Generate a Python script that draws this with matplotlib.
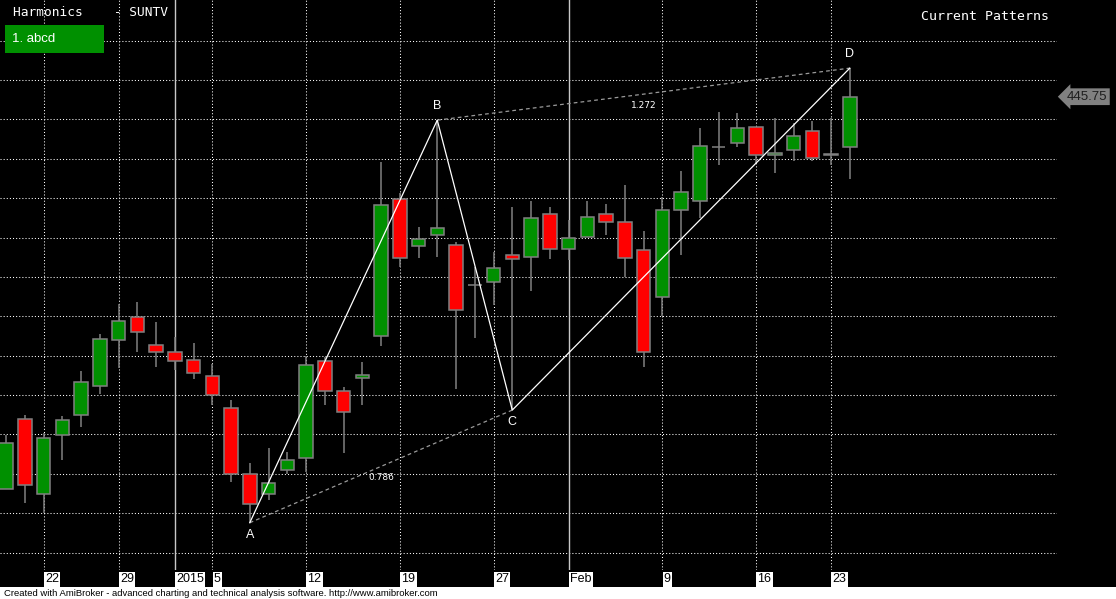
import numpy as np
import matplotlib
matplotlib.use("Agg")
import matplotlib.pyplot as plt
from matplotlib.patches import Rectangle
import matplotlib.transforms as mtransforms

# SUNTV daily candles, 18 Dec 2014 - 24 Feb 2015
dates = ["2014-12-18", "2014-12-19", "2014-12-22", "2014-12-23", "2014-12-24", "2014-12-26",
         "2014-12-29", "2014-12-30", "2014-12-31", "2015-01-01", "2015-01-02",
         "2015-01-05", "2015-01-06", "2015-01-07", "2015-01-08", "2015-01-09",
         "2015-01-12", "2015-01-13", "2015-01-14", "2015-01-15", "2015-01-16",
         "2015-01-19", "2015-01-20", "2015-01-21", "2015-01-22", "2015-01-23",
         "2015-01-27", "2015-01-28", "2015-01-29", "2015-01-30",
         "2015-02-02", "2015-02-03", "2015-02-04", "2015-02-05", "2015-02-06",
         "2015-02-09", "2015-02-10", "2015-02-11", "2015-02-12", "2015-02-13",
         "2015-02-16", "2015-02-18", "2015-02-19", "2015-02-20",
         "2015-02-23", "2015-02-24"]
opens = [346.2, 364.0, 344.9, 359.9, 365.0, 372.3, 384.0, 389.8, 382.7, 381.0, 378.9,
         374.9, 366.8, 350.0, 344.9, 351.0, 354.1, 378.7, 371.1, 374.4, 385.0,
         419.8, 407.9, 410.7, 408.1, 398.0, 398.7, 405.6, 405.1, 416.0,
         407.1, 410.2, 416.0, 414.0, 406.9, 394.9, 417.0, 419.3, 433.0, 434.0,
         438.1, 431.0, 432.2, 437.1, 431.0, 433.0]
highs = [359.9, 365.0, 360.4, 364.7, 376.1, 385.5, 393.1, 393.6, 388.6, 384.8, 383.2,
         377.9, 368.8, 352.8, 356.6, 355.6, 380.0, 379.7, 372.1, 378.4, 429.2,
         421.3, 412.7, 439.8, 408.9, 402.5, 406.3, 417.8, 419.3, 417.8,
         414.5, 419.3, 418.5, 423.4, 411.7, 420.3, 426.9, 437.8, 441.9, 441.6,
         438.1, 440.4, 439.1, 439.6, 440.4, 453.0]
lows = [346.2, 342.6, 340.1, 353.6, 361.9, 370.3, 376.9, 381.0, 377.2, 376.4, 374.1,
        367.5, 348.0, 337.6, 343.4, 350.0, 350.5, 367.5, 355.3, 367.5, 382.5,
        402.5, 404.8, 405.1, 371.6, 384.5, 392.9, 366.2, 396.4, 404.6,
        404.3, 410.2, 410.7, 400.0, 377.2, 390.1, 405.6, 415.0, 428.4, 433.0,
        428.9, 426.4, 429.4, 429.4, 428.4, 424.9]
closes = [357.9, 347.2, 359.1, 363.7, 373.4, 384.3, 388.8, 386.0, 381.0, 378.7, 375.6,
          370.0, 350.0, 342.4, 347.7, 353.6, 377.7, 371.1, 365.7, 375.1, 418.3,
          404.8, 409.6, 412.4, 391.6, 398.0, 402.3, 404.6, 415.0, 407.1,
          409.9, 415.2, 414.0, 404.8, 381.0, 417.0, 421.6, 433.2, 433.0, 437.8,
          431.0, 431.5, 435.8, 430.2, 431.2, 445.75]

tick_dates = ["2014-12-22", "2014-12-29", "2015-01-01", "2015-01-05", "2015-01-12", "2015-01-19",
              "2015-01-27", "2015-02-02", "2015-02-09", "2015-02-16", "2015-02-23"]
tick_labels = ["22", "29", "2015", "5", "12", "19", "27", "Feb", "9", "16", "23"]
period_starts = ["2015-01-01", "2015-02-02"]

# harmonic abcd pattern points
pattern_names = ["A", "B", "C", "D"]
pattern_dates = ["2015-01-07", "2015-01-21", "2015-01-28", "2015-02-24"]
pattern_prices = [337.6, 439.8, 366.2, 453.0]
ratio_labels = ["0.786", "1.272"]
last_price = 445.75

W, H = 1116, 599
fig = plt.figure(figsize=(W / 100, H / 100), dpi=100, facecolor="black")
ax = fig.add_axes([0, 29 / H, 1057 / W, 570 / H])
ax.set_facecolor("black")
for s in ax.spines.values():
    s.set_visible(False)

x = np.arange(len(dates))
o = np.array(opens)
c = np.array(closes)
ax.set_xlim(-0.32, 56.05)
ax.set_ylim(325.6, 470.3)

# grid
ax.set_yticks(np.arange(330, 461, 10))
ax.yaxis.grid(True, color="white", lw=0.75, ls=(0, (1, 2)))
ax.tick_params(axis="y", left=False, labelleft=False)
ax.set_axisbelow(True)

tick_pos = [dates.index(d) for d in tick_dates]
for d, p in zip(tick_dates, tick_pos):
    if d in period_starts:
        ax.axvline(p, color="#c8c8c8", lw=1.0, zorder=1)
    else:
        ax.axvline(p, color="white", lw=0.75, ls=(0, (1, 2)), zorder=1)

ax.set_xticks(tick_pos)
ax.set_xticklabels(tick_labels)
ax.tick_params(axis="x", length=0, pad=2.5)
shift = mtransforms.ScaledTranslation(1.5 / 100, 0, fig.dpi_scale_trans)
for lab in ax.get_xticklabels():
    lab.set_ha("left")
    lab.set_fontfamily("Liberation Sans")
    lab.set_fontsize(9)
    lab.set_color("black")
    lab.set_bbox(dict(boxstyle="square,pad=0.1", fc="white", ec="none"))
    lab.set_transform(lab.get_transform() + shift)

# candles
colors = np.where(c >= o, "#009000", "#ff0000")
ax.vlines(x, lows, highs, color="#808080", lw=1.1, zorder=2)
ax.bar(x, np.abs(c - o), bottom=np.minimum(o, c), width=0.72, color=colors,
       edgecolor="#808080", linewidth=1.1, zorder=3)

# pattern
px = [dates.index(d) for d in pattern_dates]
ax.plot(px, pattern_prices, color="white", lw=0.9, zorder=5)
for (i, j), r in zip([(0, 2), (1, 3)], ratio_labels):
    ax.plot([px[i], px[j]], [pattern_prices[i], pattern_prices[j]], color="#9a9a9a",
            lw=0.9, ls=(0, (3, 2.5)), zorder=4)
    mx = (px[i] + px[j]) / 2
    my = (pattern_prices[i] + pattern_prices[j]) / 2
    ax.annotate(r, (mx, my), xytext=(0, -8), textcoords="offset points", ha="center",
                va="center", fontsize=6.5, color="white", zorder=6)
for k, name in enumerate(pattern_names):
    dy = -8.5 if k % 2 == 0 else 10.5
    ax.annotate(name, (px[k], pattern_prices[k]), xytext=(0, dy), textcoords="offset points",
                ha="center", va="center", fontsize=9, color="white",
                fontfamily="Liberation Sans", zorder=6)

# last price tag
tr = mtransforms.blended_transform_factory(ax.transAxes, ax.transData)
ax.text(1.0285, last_price, "%.2f" % last_price, transform=tr, ha="center", va="center",
        fontsize=9.5, color="#1e1e1e", fontfamily="Liberation Sans", clip_on=False,
        bbox=dict(boxstyle="larrow,pad=0.18", fc="#808080", ec="none"))

# header
fig.text(13 / W, 1 - 12 / H, "Harmonics    - SUNTV", ha="left", va="center",
         fontsize=9.3, color="white", fontfamily="DejaVu Sans Mono")
fig.text(921 / W, 1 - 16 / H, "Current Patterns", ha="left", va="center",
         fontsize=9.5, color="white", fontfamily="DejaVu Sans Mono")
fig.patches.append(Rectangle((5 / W, 1 - 53 / H), 99 / W, 28 / H, transform=fig.transFigure,
                             fc="#009000", ec="none"))
fig.text(12 / W, 1 - 39 / H, "1. abcd", ha="left", va="center", fontsize=9.5,
         color="white", fontfamily="Liberation Sans")

# footer strip
fig.patches.append(Rectangle((0, 0), 1, 12 / H, transform=fig.transFigure, fc="white", ec="none"))
fig.text(4 / W, 6 / H, "Created with AmiBroker - advanced charting and technical analysis software. http://www.amibroker.com",
         ha="left", va="center", fontsize=6.8, color="black", fontfamily="Liberation Sans")

fig.savefig("out.png", dpi=100, facecolor="black")
